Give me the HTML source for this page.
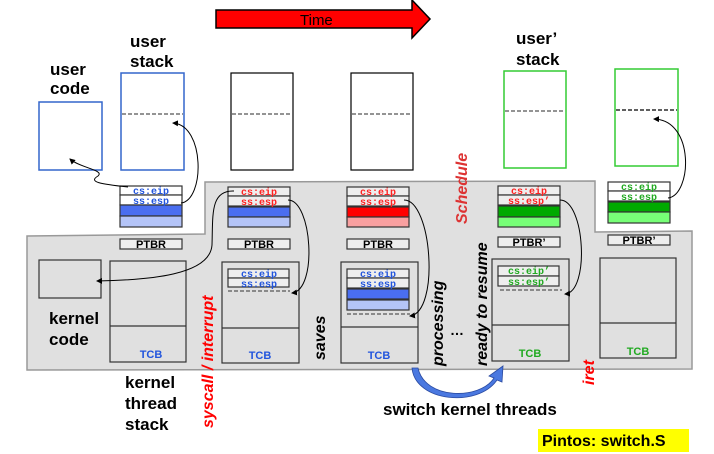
<!DOCTYPE html>
<html><head><meta charset="utf-8"><style>
html,body{margin:0;padding:0;background:#fff;}
svg{display:block;}
.h{font-family:"Liberation Sans",sans-serif;font-size:17px;font-weight:bold;fill:#000;}
.m{font-family:"Liberation Mono",monospace;font-size:10px;font-weight:bold;}
.t{font-family:"Liberation Sans",sans-serif;font-size:11px;font-weight:bold;}
.r{font-family:"Liberation Sans",sans-serif;font-style:italic;font-weight:bold;font-size:16px;}
</style></head><body>
<svg width="714" height="454" viewBox="0 0 714 454" xmlns="http://www.w3.org/2000/svg">
<defs><marker id="a" markerWidth="6" markerHeight="6" refX="5" refY="3" orient="auto"><path d="M0,0 L6,3 L0,6z" fill="#000"/></marker></defs>
<path d="M27,236 L205,234 L205,182 L595,181 L595,232 L692,231 L692,369 L27,370 Z" fill="#e0e0e0" stroke="#999" stroke-width="1.5"/>
<path d="M216,10 L412,10 L412,0 L430,19 L412,38 L412,28 L216,28 Z" fill="#f00" stroke="#000" stroke-width="1.5"/>
<text x="300" y="25" font-family="Liberation Sans,sans-serif" font-size="15">Time</text>
<text class="h" x="50" y="75">user</text><text class="h" x="50" y="94">code</text>
<text class="h" x="130" y="47">user</text><text class="h" x="130" y="67">stack</text>
<text class="h" x="516" y="44">user’</text><text class="h" x="516" y="65">stack</text>
<rect x="39" y="102" width="63" height="68" fill="#fff" stroke="#36c" stroke-width="1.5"/>
<rect x="121" y="73" width="63" height="97" fill="#fff" stroke="#36c" stroke-width="1.5"/>
<rect x="231" y="73" width="62" height="97" fill="#fff" stroke="#000" stroke-width="1.2"/>
<rect x="351" y="73" width="62" height="97" fill="#fff" stroke="#000" stroke-width="1.2"/>
<rect x="504" y="71" width="62" height="97" fill="#fff" stroke="#3c3" stroke-width="1.5"/>
<rect x="615" y="69" width="63" height="97" fill="#fff" stroke="#3c3" stroke-width="1.5"/>
<g stroke="#555" stroke-width="1.3" stroke-dasharray="4,2">
<line x1="122" y1="114" x2="183" y2="114"/><line x1="232" y1="114" x2="292" y2="114"/>
<line x1="352" y1="114" x2="412" y2="114"/><line x1="505" y1="111" x2="565" y2="111"/>
<line x1="616" y1="110" x2="677" y2="110" stroke="#000"/></g>
<g stroke="#333" stroke-width="1.2">
<rect x="120" y="186" width="62" height="9" fill="#fff"/><rect x="120" y="195" width="62" height="10" fill="#fff"/>
<rect x="120" y="205" width="62" height="11" fill="#4a6ef0"/><rect x="120" y="216" width="62" height="11" fill="#b4c4f8"/>
<rect x="228" y="187" width="62" height="9" fill="#eee"/><rect x="228" y="196" width="62" height="10" fill="#eee"/>
<rect x="228" y="207" width="62" height="10" fill="#4a6ef0"/><rect x="228" y="217" width="62" height="10" fill="#b4c4f8"/>
<rect x="347" y="187" width="62" height="9" fill="#eee"/><rect x="347" y="196" width="62" height="10" fill="#eee"/>
<rect x="347" y="207" width="62" height="10" fill="#f00"/><rect x="347" y="217" width="62" height="10" fill="#f9a0a0"/>
<rect x="498" y="186" width="62" height="9" fill="#eee"/><rect x="498" y="195" width="62" height="10" fill="#eee"/>
<rect x="498" y="206" width="62" height="11" fill="#0a0"/><rect x="498" y="217" width="62" height="10" fill="#7f7"/>
<rect x="608" y="182" width="62" height="9" fill="#fff"/><rect x="608" y="191" width="62" height="10" fill="#fff"/>
<rect x="608" y="202" width="62" height="10" fill="#0a0"/><rect x="608" y="212" width="62" height="11" fill="#7f7"/>
<rect x="120" y="239" width="62" height="10" fill="#eee"/><rect x="228" y="239" width="62" height="10" fill="#eee"/>
<rect x="347" y="239" width="62" height="10" fill="#eee"/><rect x="498" y="237" width="62" height="10" fill="#eee"/>
<rect x="608" y="235" width="62" height="10" fill="#eee"/>
<rect x="39" y="260" width="62" height="38" fill="#e0e0e0"/>
<rect x="110" y="261" width="76" height="101" fill="#e0e0e0"/><line x1="110" y1="326" x2="186" y2="326"/>
<rect x="222" y="262" width="77" height="101" fill="#e0e0e0"/><line x1="222" y1="328" x2="299" y2="328"/>
<rect x="341" y="262" width="77" height="101" fill="#e0e0e0"/><line x1="341" y1="327" x2="418" y2="327"/>
<rect x="492" y="259" width="77" height="102" fill="#e0e0e0"/><line x1="492" y1="325" x2="569" y2="325"/>
<rect x="600" y="258" width="76" height="100" fill="#e0e0e0"/><line x1="600" y1="323" x2="676" y2="323"/>
<rect x="228" y="269" width="61" height="9" fill="#eee"/><rect x="228" y="278" width="61" height="9" fill="#eee"/>
<rect x="347" y="269" width="62" height="9" fill="#eee"/><rect x="347" y="278" width="62" height="10" fill="#eee"/>
<rect x="347" y="289" width="62" height="10" fill="#4a6ef0"/><rect x="347" y="300" width="62" height="10" fill="#b4c4f8"/>
<rect x="498" y="266" width="61" height="10" fill="#eee"/><rect x="498" y="276" width="61" height="10" fill="#eee"/>
</g>
<g stroke="#333" stroke-width="1" stroke-dasharray="4,2">
<line x1="228" y1="291" x2="290" y2="291"/><line x1="347" y1="314" x2="410" y2="314"/><line x1="500" y1="290" x2="562" y2="290"/></g>
<g class="m" text-anchor="middle">
<text x="151" y="194" fill="#25d">cs:eip</text><text x="151" y="204" fill="#25d">ss:esp</text>
<text x="259" y="195" fill="#f22">cs:eip</text><text x="259" y="205" fill="#f22">ss:esp</text>
<text x="378" y="195" fill="#f22">cs:eip</text><text x="378" y="205" fill="#f22">ss:esp</text>
<text x="529" y="194" fill="#f22">cs:eip</text><text x="529" y="204" fill="#f22">ss:esp’</text>
<text x="639" y="190" fill="#2a2">cs:eip</text><text x="639" y="200" fill="#2a2">ss:esp</text>
<text x="259" y="277" fill="#25d">cs:eip</text><text x="259" y="287" fill="#25d">ss:esp</text>
<text x="378" y="277" fill="#25d">cs:eip</text><text x="378" y="287" fill="#25d">ss:esp</text>
<text x="529" y="274" fill="#2a2">cs:eip’</text><text x="529" y="285" fill="#2a2">ss:esp’</text>
</g>
<g class="t" text-anchor="middle">
<text x="151" y="248">PTBR</text><text x="259" y="248">PTBR</text><text x="378" y="248">PTBR</text>
<text x="529" y="246">PTBR’</text><text x="639" y="244">PTBR’</text>
<text x="151" y="358" fill="#25d">TCB</text><text x="260" y="359" fill="#25d">TCB</text><text x="379" y="359" fill="#25d">TCB</text>
<text x="530" y="357" fill="#2a2">TCB</text><text x="638" y="355" fill="#2a2">TCB</text>
</g>
<text class="h" x="49" y="324">kernel</text><text class="h" x="49" y="345">code</text>
<text class="h" x="125" y="388">kernel</text><text class="h" x="125" y="409">thread</text><text class="h" x="125" y="430">stack</text>
<text class="r" fill="#f00" transform="translate(213,428) rotate(-90)">syscall / interrupt</text>
<text class="r" fill="#000" font-size="15" transform="translate(325,360) rotate(-90)">saves</text>
<text class="r" fill="#000" font-size="15" transform="translate(443,366) rotate(-90)">processing</text>
<text x="450" y="335" font-family="Liberation Sans" font-size="14" font-weight="bold">…</text>
<text class="r" fill="#000" font-size="15" transform="translate(487,366) rotate(-90)">ready to resume</text>
<text class="r" fill="#d33" font-size="18" transform="translate(467,224) rotate(-90)">Schedule</text>
<text class="r" fill="#f00" transform="translate(594,385) rotate(-90)">iret</text>
<text class="h" x="383" y="415">switch kernel threads</text>
<rect x="538" y="429" width="151" height="23" fill="#ff0"/>
<text x="542" y="446" font-family="Liberation Sans,sans-serif" font-size="16" font-weight="bold">Pintos: switch.S</text>
<path d="M418,368 C425,400 480,400 494,378 L489,376 L503,366 L502,382 L497,380 C478,408 415,402 412,368 Z" fill="#4a78e0" stroke="#2a4aa0" stroke-width="0.8"/>
<g fill="none" stroke="#000" stroke-width="1" marker-end="url(#a)">
<path d="M128,187 C100,184 88,182 98,176 C105,170 80,168 70,159"/>
<path d="M181,203 C205,200 205,125 173,123"/>
<path d="M234,191 C210,190 213,215 212,245 C210,275 150,280 97,281"/>
<path d="M288,200 C312,200 318,290 292,293"/>
<path d="M404,200 C432,200 440,312 410,316"/>
<path d="M560,200 C585,200 590,292 565,294"/>
<path d="M668,198 C692,195 695,120 654,119"/>
</g>
</svg>
</body></html>
